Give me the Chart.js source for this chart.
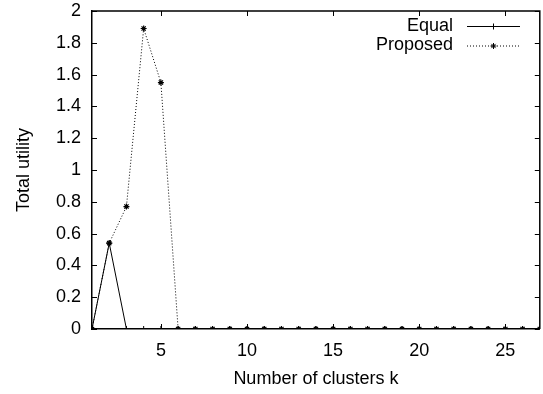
<!DOCTYPE html>
<html>
<head>
<meta charset="utf-8">
<script src="https://cdn.jsdelivr.net/npm/chart.js@4.4.0/dist/chart.umd.min.js"></script>
<style>
  html, body { margin: 0; padding: 0; overflow: hidden; background: #fff; }
</style>
</head>
<body>
<canvas id="chart" width="545" height="394"></canvas>
<script>
const clusters = [1, 2, 3, 4, 5, 6, 7, 8, 9, 10, 11, 12, 13, 14, 15, 16, 17, 18, 19, 20, 21, 22, 23, 24, 25, 26, 27];
const equalUtility = [0, 0.54, 0, 0, 0, 0, 0, 0, 0, 0, 0, 0, 0, 0, 0, 0, 0, 0, 0, 0, 0, 0, 0, 0, 0, 0, 0];
const proposedUtility = [0, 0.54, 0.77, 1.89, 1.55, 0, 0, 0, 0, 0, 0, 0, 0, 0, 0, 0, 0, 0, 0, 0, 0, 0, 0, 0, 0, 0, 0];
const xTicks = [5, 10, 15, 20, 25];
const yTicks = [0, 0.2, 0.4, 0.6, 0.8, 1, 1.2, 1.4, 1.6, 1.8, 2];
const yTickLabels = ['0', '0.2', '0.4', '0.6', '0.8', '1', '1.2', '1.4', '1.6', '1.8', '2'];

const FONT = { family: "'Liberation Sans', Arial, sans-serif", size: 18 };
Chart.defaults.color = '#000';
Chart.defaults.font.family = FONT.family;

const pts = vals => clusters.map((k, i) => ({ x: k, y: vals[i] }));

// gnuplot style box: top/right frame plus inward ticks on all four sides
const frame = {
  id: 'frame',
  beforeDatasetsDraw(chart) {
    const { ctx, chartArea: a, scales: { x, y } } = chart;
    ctx.save();
    ctx.strokeStyle = '#000';
    ctx.lineWidth = 1;
    ctx.beginPath();
    xTicks.forEach(v => {
      const px = Math.round(x.getPixelForValue(v)) + 0.5;
      ctx.moveTo(px, a.bottom); ctx.lineTo(px, a.bottom - 5);
      ctx.moveTo(px, a.top); ctx.lineTo(px, a.top + 5);
    });
    yTicks.forEach(v => {
      const py = Math.round(y.getPixelForValue(v)) + 0.5;
      ctx.moveTo(a.left, py); ctx.lineTo(a.left + 5, py);
      ctx.moveTo(a.right, py); ctx.lineTo(a.right - 5, py);
    });
    ctx.stroke();
    ctx.lineWidth = 1.5;
    ctx.beginPath();
    ctx.moveTo(a.left, a.top);
    ctx.lineTo(a.right, a.top);
    ctx.lineTo(a.right, a.bottom);
    ctx.stroke();
    ctx.restore();
  }
};

// key in the top right corner: label, line sample, marker
const key = {
  id: 'key',
  afterDraw(chart) {
    const { ctx } = chart;
    ctx.save();
    ctx.font = `${FONT.size}px ${FONT.family}`;
    ctx.textAlign = 'right';
    ctx.textBaseline = 'middle';
    ctx.fillStyle = '#000';
    ctx.strokeStyle = '#000';
    chart.data.datasets.forEach((ds, i) => {
      const yy = 26 + i * 19.5;
      ctx.fillText(ds.label, 453, yy);
      ctx.lineWidth = 1;
      ctx.setLineDash(ds.borderDash || []);
      ctx.beginPath();
      ctx.moveTo(467, yy + 0.5);
      ctx.lineTo(520, yy + 0.5);
      ctx.stroke();
      ctx.setLineDash([]);
      Chart.helpers.drawPoint(ctx, { pointStyle: ds.pointStyle, radius: ds.pointRadius, borderWidth: 1, rotation: 0 }, 493.5, yy + 0.5);
    });
    ctx.restore();
  }
};

new Chart(document.getElementById('chart'), {
  type: 'line',
  data: {
    datasets: [
      {
        label: 'Equal',
        data: pts(equalUtility),
        borderColor: '#000',
        backgroundColor: '#000',
        borderWidth: 1,
        pointStyle: 'cross',
        pointRadius: 3,
        pointBorderWidth: 1,
        tension: 0
      },
      {
        label: 'Proposed',
        data: pts(proposedUtility),
        borderColor: '#000',
        backgroundColor: '#000',
        borderWidth: 1,
        borderDash: [1, 2],
        pointStyle: 'star',
        pointRadius: 3,
        pointBorderWidth: 1.2,
        tension: 0
      }
    ]
  },
  options: {
    responsive: false,
    animation: false,
    events: [],
    layout: { padding: { top: 0, right: 1, left: 0, bottom: 0 } },
    plugins: { legend: { display: false }, tooltip: { enabled: false } },
    scales: {
      x: {
        type: 'linear',
        min: 1,
        max: 27,
        grid: { display: false, drawTicks: false },
        border: { display: true, color: '#000', width: 1.5 },
        afterBuildTicks: s => { s.ticks = xTicks.map(v => ({ value: v })); },
        afterFit: s => { s.height = 65; },
        ticks: { font: FONT, padding: 11, maxRotation: 0, autoSkip: false },
        title: { display: true, text: 'Number of clusters k', font: FONT, padding: { top: 0, bottom: 4.5 } }
      },
      y: {
        min: 0,
        max: 2,
        grid: { display: false, drawTicks: false },
        border: { display: true, color: '#000', width: 1.5 },
        afterBuildTicks: s => { s.ticks = yTicks.map(v => ({ value: v })); },
        afterFit: s => { s.width = 92; s.paddingTop = 11; s.paddingBottom = 0; },
        ticks: { font: FONT, padding: 11, autoSkip: false, callback: (v, i) => yTickLabels[i] },
        title: { display: true, text: 'Total utility', font: FONT, padding: { top: 13, bottom: 0 } }
      }
    }
  },
  plugins: [frame, key]
});
</script>
</body>
</html>
